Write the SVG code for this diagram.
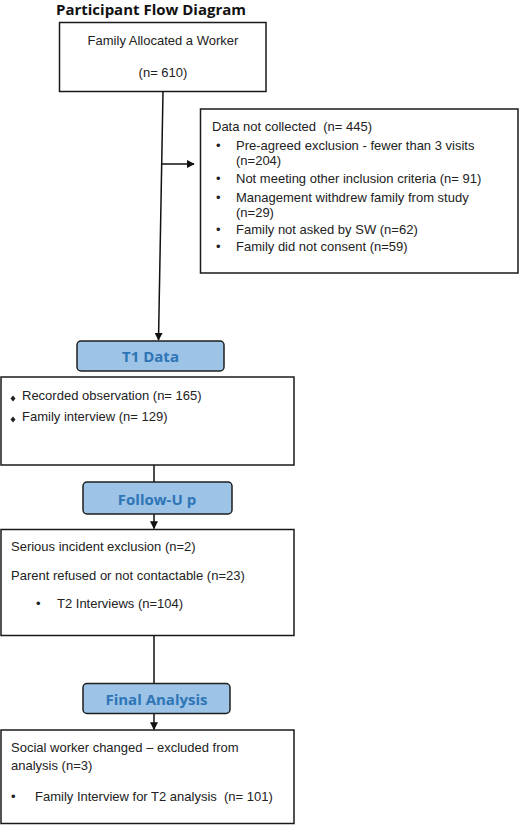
<svg xmlns="http://www.w3.org/2000/svg" width="520" height="825" viewBox="0 0 520 825">
<defs>
<style>
.box{fill:#fff;stroke:#1a1a1a;stroke-width:1.5}
.pill{fill:#9dc3e6;stroke:#1f1f1f;stroke-width:1.5}
.t{font-family:"Liberation Sans",Arial,sans-serif;font-size:13px;fill:#222;white-space:pre}
.h{font-family:"Open Sans","Liberation Sans",sans-serif;font-weight:bold;font-size:15px;fill:#2e75b6;text-anchor:middle;white-space:pre}
.title{font-family:"Open Sans","Liberation Sans",sans-serif;font-weight:bold;font-size:15px;fill:#111}
.ln{stroke:#111;stroke-width:1.5;fill:none}
</style>
<marker id="ah" viewBox="0 0 10 10" refX="9" refY="5" markerWidth="8" markerHeight="8" markerUnits="userSpaceOnUse" orient="auto">
<path d="M0,0 L10,5 L0,10 z" fill="#111"/>
</marker>
</defs>
<rect width="520" height="825" fill="#fff"/>
<text class="title" x="56" y="15" textLength="190" lengthAdjust="spacingAndGlyphs">Participant Flow Diagram</text>

<g id="connectors">
<line class="ln" x1="163" y1="92" x2="158.5" y2="340" marker-end="url(#ah)"/>
<line class="ln" x1="161.5" y1="164" x2="194" y2="164" marker-end="url(#ah)"/>
<line class="ln" x1="154" y1="465" x2="154" y2="482"/>
<line class="ln" x1="154" y1="514" x2="154" y2="528.5" marker-end="url(#ah)"/>
<line class="ln" x1="154" y1="636" x2="154" y2="683"/>
<line class="ln" x1="154" y1="713" x2="154" y2="729.5" marker-end="url(#ah)"/>
</g>

<g id="allocated">
<rect class="box" x="59.5" y="22.5" width="206.5" height="69"/>
<text class="t" x="163" y="45" text-anchor="middle">Family Allocated a Worker</text>
<text class="t" x="163" y="77" text-anchor="middle">(n= 610)</text>
</g>

<g id="notcollected">
<rect class="box" x="200.5" y="109" width="317.5" height="164"/>
<text class="t" x="212" y="131" xml:space="preserve">Data not collected  (n= 445)</text>
<text class="t" x="216" y="150">•</text>
<text class="t" x="236" y="150">Pre-agreed exclusion - fewer than 3 visits</text>
<text class="t" x="236" y="165">(n=204)</text>
<text class="t" x="216" y="183">•</text>
<text class="t" x="236" y="183">Not meeting other inclusion criteria (n= 91)</text>
<text class="t" x="216" y="201.5">•</text>
<text class="t" x="236" y="201.5">Management withdrew family from study</text>
<text class="t" x="236" y="216.5">(n=29)</text>
<text class="t" x="216" y="234">•</text>
<text class="t" x="236" y="234">Family not asked by SW (n=62)</text>
<text class="t" x="216" y="250.5">•</text>
<text class="t" x="236" y="250.5">Family did not consent (n=59)</text>
</g>

<g id="t1label">
<rect class="pill" x="77" y="341" width="147" height="30" rx="4"/>
<text class="h" x="150.5" y="362">T1 Data</text>
</g>

<g id="t1data">
<rect class="box" x="1" y="377" width="293" height="88"/>
<path d="M13,395.5 L15.5,398.5 L13,401.5 L10.5,398.5 z" fill="#222"/>
<text class="t" x="22" y="399.5">Recorded observation (n= 165)</text>
<path d="M13,416.5 L15.5,419.5 L13,422.5 L10.5,419.5 z" fill="#222"/>
<text class="t" x="22" y="420.5">Family interview (n= 129)</text>
</g>

<g id="followuplabel">
<rect class="pill" x="83" y="482" width="149" height="32" rx="4"/>
<text class="h" x="157" y="505">Follow-U p</text>
</g>

<g id="followup">
<rect class="box" x="1" y="529.5" width="293" height="106"/>
<text class="t" x="11" y="551">Serious incident exclusion (n=2)</text>
<text class="t" x="11" y="579.5">Parent refused or not contactable (n=23)</text>
<text class="t" x="36" y="607.5">•</text>
<text class="t" x="57" y="607.5">T2 Interviews (n=104)</text>
</g>

<g id="finallabel">
<rect class="pill" x="83" y="683.5" width="147" height="30" rx="4"/>
<text class="h" x="156.5" y="705">Final Analysis</text>
</g>

<g id="final">
<rect class="box" x="1" y="730" width="293" height="93.5"/>
<text class="t" x="11" y="752">Social worker changed – excluded from</text>
<text class="t" x="11" y="769.5">analysis (n=3)</text>
<text class="t" x="11" y="801">•</text>
<text class="t" x="35" y="801" xml:space="preserve">Family Interview for T2 analysis  (n= 101)</text>
</g>
</svg>
